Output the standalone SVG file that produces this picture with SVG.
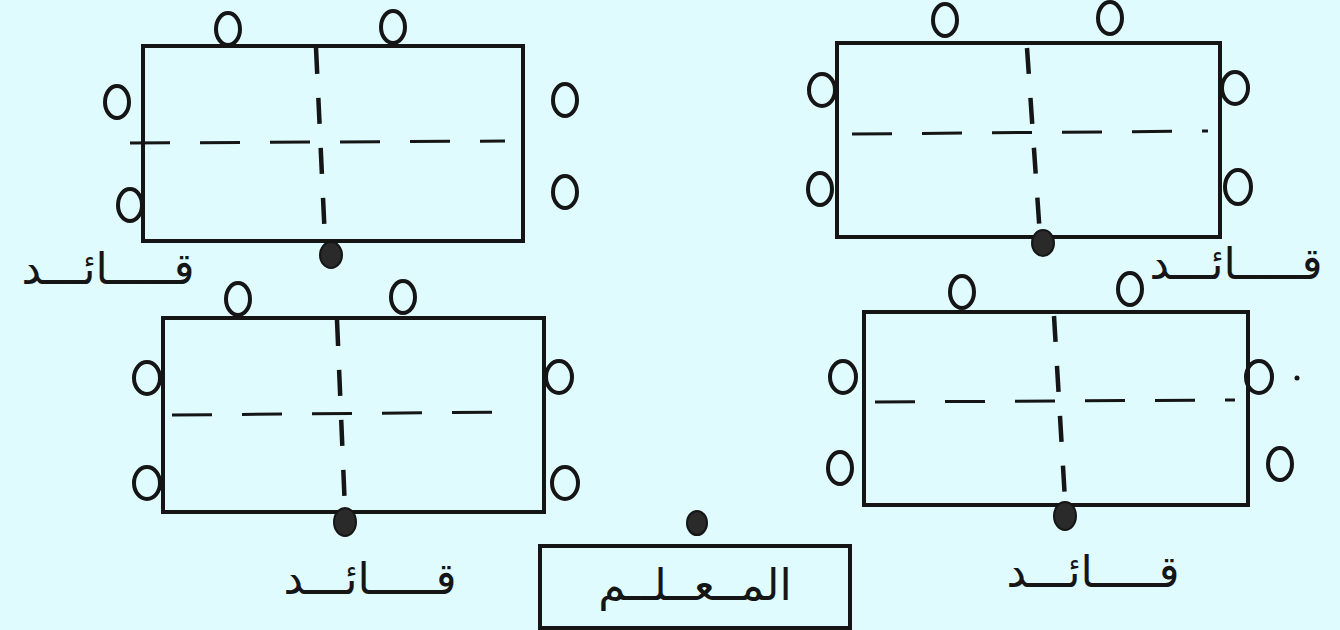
<svg xmlns="http://www.w3.org/2000/svg" width="1340" height="630" viewBox="0 0 1340 630">
<style>
.bg{fill:#dffbfd}
.table{fill:none;stroke:#151515;stroke-width:4}
.vd{stroke:#151515;stroke-width:4.5;stroke-dasharray:26 24;fill:none}
.hd{stroke:#151515;stroke-width:3;stroke-dasharray:40 30;fill:none}
.seat{fill:none;stroke:#151515;stroke-width:4}
.lead{fill:#2a2a2a;stroke:#151515;stroke-width:2}
.lbl{font-family:"DejaVu Sans",sans-serif;font-size:44px;fill:#151515}
</style>
<rect class="bg" x="0" y="0" width="1340" height="630"/>

<g id="group1">
<rect class="table" x="143" y="46" width="380" height="195"/>
<line class="vd" x1="316" y1="48" x2="325" y2="240"/>
<line class="hd" x1="130" y1="143" x2="505" y2="141"/>
<ellipse class="seat" cx="228" cy="29" rx="12" ry="16"/>
<ellipse class="seat" cx="393" cy="27" rx="12" ry="16"/>
<ellipse class="seat" cx="117" cy="102" rx="12" ry="16"/>
<ellipse class="seat" cx="130" cy="205" rx="12" ry="16"/>
<ellipse class="seat" cx="565" cy="100" rx="12" ry="16"/>
<ellipse class="seat" cx="565" cy="192" rx="12" ry="16"/>
<ellipse class="lead" cx="331" cy="255" rx="11" ry="13"/>
<text class="lbl" x="108" y="284" text-anchor="middle">قـــــائـــد</text>
</g>

<g id="group2">
<rect class="table" x="837" y="43" width="383" height="194"/>
<line class="vd" x1="1027" y1="48" x2="1040" y2="236"/>
<line class="hd" x1="852" y1="134" x2="1208" y2="131"/>
<ellipse class="seat" cx="945" cy="20" rx="12" ry="16"/>
<ellipse class="seat" cx="1110" cy="18" rx="12" ry="16"/>
<ellipse class="seat" cx="822" cy="90" rx="13" ry="16"/>
<ellipse class="seat" cx="820" cy="189" rx="12" ry="16"/>
<ellipse class="seat" cx="1235" cy="88" rx="13" ry="16"/>
<ellipse class="seat" cx="1238" cy="187" rx="13" ry="17"/>
<ellipse class="lead" cx="1043" cy="243" rx="11" ry="13"/>
<text class="lbl" x="1236" y="279" text-anchor="middle">قـــــائـــد</text>
</g>

<g id="group3">
<rect class="table" x="163" y="318" width="381" height="194"/>
<line class="vd" x1="337" y1="320" x2="345" y2="510"/>
<line class="hd" x1="172" y1="415" x2="510" y2="412"/>
<ellipse class="seat" cx="238" cy="299" rx="12" ry="16"/>
<ellipse class="seat" cx="403" cy="297" rx="12" ry="16"/>
<ellipse class="seat" cx="147" cy="378" rx="13" ry="16"/>
<ellipse class="seat" cx="147" cy="483" rx="13" ry="16"/>
<ellipse class="seat" cx="559" cy="377" rx="13" ry="16"/>
<ellipse class="seat" cx="565" cy="483" rx="13" ry="16"/>
<ellipse class="lead" cx="345" cy="522" rx="11" ry="14"/>
<text class="lbl" x="370" y="594" text-anchor="middle">قـــــائـــد</text>
</g>

<g id="group4">
<rect class="table" x="864" y="312" width="384" height="193"/>
<line class="vd" x1="1054" y1="316" x2="1065" y2="500"/>
<line class="hd" x1="875" y1="402" x2="1235" y2="400"/>
<ellipse class="seat" cx="962" cy="292" rx="12" ry="16"/>
<ellipse class="seat" cx="1130" cy="289" rx="12" ry="16"/>
<ellipse class="seat" cx="843" cy="377" rx="13" ry="16"/>
<ellipse class="seat" cx="840" cy="468" rx="12" ry="16"/>
<ellipse class="seat" cx="1259" cy="377" rx="13" ry="16"/>
<circle cx="1297" cy="378" r="2.5" fill="#151515"/>
<ellipse class="seat" cx="1280" cy="464" rx="12" ry="16"/>
<ellipse class="lead" cx="1065" cy="516" rx="11" ry="14"/>
<text class="lbl" x="1093" y="587" text-anchor="middle">قـــــائـــد</text>
</g>

<g id="teacher">
<rect class="table" x="540" y="546" width="310" height="82"/>
<ellipse class="lead" cx="697" cy="523" rx="10" ry="12"/>
<text class="lbl" x="695" y="600" text-anchor="middle">المــعــلــم</text>
</g>

<g id="connectors"></g>
</svg>
